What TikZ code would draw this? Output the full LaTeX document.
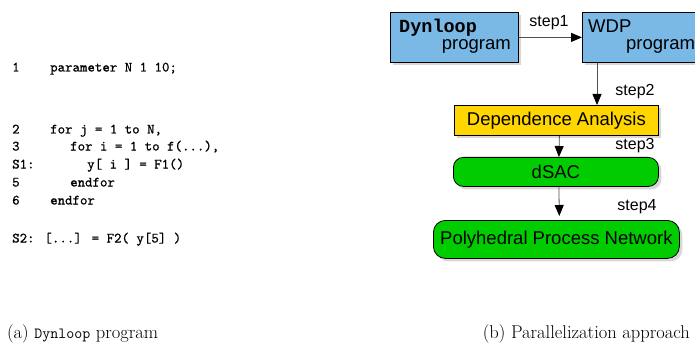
\documentclass[tikz,border=0pt]{standalone}
\usepackage{fontspec}
\newfontfamily\diagsans{Liberation Sans}
\newfontfamily\diagmono{Liberation Mono}
\newfontfamily\codefont{lmmono10-regular.otf}[RawFeature={embolden=0.8}]
\usetikzlibrary{arrows.meta,shadows}

\definecolor{boxblue}{RGB}{122,184,229}
\definecolor{boxyellow}{RGB}{255,214,0}
\definecolor{boxgreen}{RGB}{0,204,0}
\definecolor{shadowgray}{RGB}{215,215,215}
\definecolor{linegray}{RGB}{80,80,80}

\tikzset{
  procbox/.style={draw=black, line width=0.8pt, inner sep=0pt,
    drop shadow={shadow xshift=3pt, shadow yshift=-3pt, fill=shadowgray, opacity=1}},
  squarebox/.style={procbox, anchor=north west},
  roundbox/.style={procbox, anchor=north west, rounded corners=10pt, fill=boxgreen},
  boxtext/.style={font=\diagsans\fontsize{18.5}{20}\selectfont, inner sep=0pt},
  steplabel/.style={font=\diagsans\fontsize{16}{18}\selectfont, inner sep=0pt},
  flow/.style={draw=linegray, line width=0.8pt, -{Triangle[length=11pt,width=9pt,color=black]}},
  codeline/.style={font=\codefont\fontsize{14.2}{16}\selectfont, anchor=west, inner sep=0pt,
    text height=10pt, text depth=3pt},
  caption/.style={font=\fontsize{18.5}{20}\selectfont, inner sep=0pt}
}

\begin{document}
\begin{tikzpicture}[x=1pt, y=-1pt]
  \path[use as bounding box] (0,0) rectangle (695,358);
  \clip (0,0) rectangle (695,358);

  % ---- (a) the Dynloop listing ----
  \node[codeline] (n1) at (12,68) {1};
  \node[codeline] (c1) at (50,68) {parameter N 1 10;};
  \node[codeline] (n2) at (12,130) {2};
  \node[codeline] (c2) at (50,130) {for j = 1 to N,};
  \node[codeline] (n3) at (12,147) {3};
  \node[codeline] (c3) at (70,147) {for i = 1 to f(...),};
  \node[codeline] (ns1) at (12,165) {S1:};
  \node[codeline] (cs1) at (87,165) {y[ i ] = F1()};
  \node[codeline] (n5) at (12,183) {5};
  \node[codeline] (c5) at (70,183) {endfor};
  \node[codeline] (n6) at (12,201) {6};
  \node[codeline] (c6) at (50,201) {endfor};
  \node[codeline] (cs2) at (12,239) {S2: [...] = F2( y[5] )};

  % ---- (b) the tool flow ----
  \node[squarebox, fill=boxblue, minimum width=128pt, minimum height=50pt] (dyn) at (390,12) {};
  \node[boxtext, anchor=base west] (dyntop) at (399,33) {\diagmono\bfseries Dynloop};
  \node[boxtext, anchor=base east] (dynbot) at (511,50) {program};

  \node[squarebox, fill=boxblue, minimum width=128pt, minimum height=50pt] (wdp) at (582,12) {};
  \node[boxtext, anchor=base west] (wdptop) at (588,33) {WDP};
  \node[boxtext, anchor=base west] (wdpbot) at (626,50) {program};

  \node[squarebox, fill=boxyellow, minimum width=204pt, minimum height=30pt] (dep) at (454,105) {};
  \node[boxtext] (deptext) at (dep.center) {Dependence Analysis};

  \node[roundbox, minimum width=205pt, minimum height=29pt] (dsac) at (453,157) {};
  \node[boxtext] (dsactext) at (dsac.center) {dSAC};

  \node[roundbox, rounded corners=12pt, minimum width=246pt, minimum height=38pt] (ppn) at (433,220) {};
  \node[boxtext] (ppntext) at (ppn.center) {Polyhedral Process Network};

  % connectors
  \draw[flow] (dyn.east) -- (wdp.west);
  \draw[flow] ([xshift=15pt]wdp.south west) -- ([xshift=15pt]wdp.south west |- dep.north);
  \draw[flow] ([xshift=3pt]dep.south) -- ([xshift=3pt]dsac.north);
  \draw[flow, shorten >=4pt] ([xshift=3pt]dsac.south) -- ([xshift=3pt]ppn.north);

  \node[steplabel] (s1) at (549,23) {step1};
  \node[steplabel] (s2) at (635,92) {step2};
  \node[steplabel] (s3) at (635,146) {step3};
  \node[steplabel] (s4) at (637,207) {step4};

  % ---- captions ----
  \node[caption, anchor=west] (capa) at (7,334) {(a) {\fontsize{15.5}{18}\selectfont\texttt{Dynloop}} program};
  \node[caption, anchor=east] (capb) at (690,334) {(b) Parallelization approach};
\end{tikzpicture}
\end{document}
